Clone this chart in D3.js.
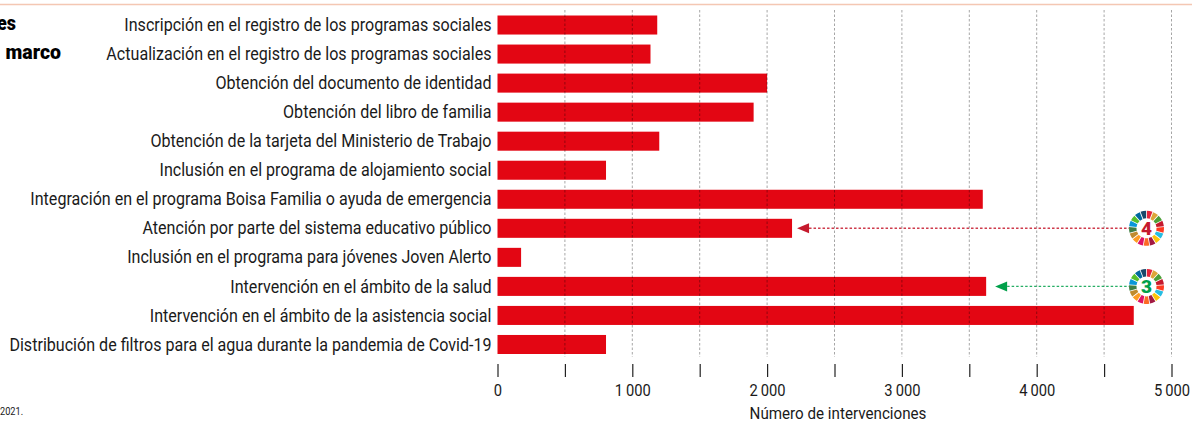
<!DOCTYPE html>
<html>
<head>
<meta charset="utf-8">
<script src="https://cdn.jsdelivr.net/npm/d3@7"></script>
<style>
    html, body { margin: 0; padding: 0; background: #fff; }
    svg { display: block; }
    text { font-family: Roboto, "Liberation Sans", sans-serif; fill: #1a1a1a; }
    .axis path { display: none; }
    .axis line { stroke: #222; stroke-width: 1.2; }
</style>
</head>
<body>
<div id="chart"></div>
<script>
    var categories = [
        'Inscripción en el registro de los programas sociales',
        'Actualización en el registro de los programas sociales',
        'Obtención del documento de identidad',
        'Obtención del libro de familia',
        'Obtención de la tarjeta del Ministerio de Trabajo',
        'Inclusión en el programa de alojamiento social',
        'Integración en el programa Boisa Familia o ayuda de emergencia',
        'Atención por parte del sistema educativo público',
        'Inclusión en el programa para jóvenes Joven Alerto',
        'Intervención en el ámbito de la salud',
        'Intervención en el ámbito de la asistencia social',
        'Distribución de filtros para el agua durante la pandemia de Covid-19'
    ];
    var values = [1185, 1135, 2000, 1900, 1200, 805, 3600, 2185, 175, 3625, 4720, 805];
    var ticks = [0, 500, 1000, 1500, 2000, 2500, 3000, 3500, 4000, 4500, 5000];
    var sdgColors = ['#E5243B', '#DDA63A', '#4C9F38', '#C5192D', '#FF3A21', '#26BDE2', '#FCC30B', '#A21942', '#FD6925',
        '#DD1367', '#FD9D24', '#BF8B2E', '#3F7E44', '#0A97D9', '#56C02B', '#00689D', '#19486A'];
    var sdgGoals = [
        { category: categories[7], goal: '4', color: '#C5192D' },
        { category: categories[9], goal: '3', color: '#00A04A' }
    ];

    var width = 1192, height = 422;
    var narrow = 0.92;

    var x = d3.scaleLinear().domain([0, 5000]).range([497.5, 1171.5]);
    var y = d3.scaleBand().domain(categories).range([10.5, 359]).paddingInner(0.345).paddingOuter(0.1725);

    var svg = d3.select('#chart').append('svg')
        .attr('width', width)
        .attr('height', height);

    // the reference type is condensed, so squeeze the text sideways
    function squeeze(px, py) {
        return 'translate(' + px + ', ' + py + ') scale(' + narrow + ', 1)';
    }

    // top rule
    svg.append('line')
        .attr('x1', 0).attr('x2', width)
        .attr('y1', 4.5).attr('y2', 4.5)
        .style('stroke', '#F4C7B3')
        .style('stroke-width', 1.5);

    // what is left of the title, cut by the crop
    svg.append('text').attr('transform', squeeze(16, 30)).attr('text-anchor', 'end')
        .style('font-weight', 900).style('font-size', '19.5px').style('fill', '#000').text('es');
    svg.append('text').attr('x', 61).attr('y', 59).attr('text-anchor', 'end')
        .style('font-weight', 900).style('font-size', '19.5px').style('fill', '#000').text('marco');

    svg.append('g').selectAll('rect').data(categories)
        .enter().append('rect')
            .attr('x', x(0))
            .attr('y', function(d) { return y(d); })
            .attr('width', function(d, i) { return x(values[i]) - x(0); })
            .attr('height', y.bandwidth())
            .style('fill', '#E30613');

    svg.append('g').selectAll('text').data(categories)
        .enter().append('text')
            .attr('transform', function(d) { return squeeze(x(0) - 6, y(d) + y.bandwidth() / 2); })
            .attr('dy', '0.35em')
            .attr('text-anchor', 'end')
            .style('font-size', '17.5px')
            .text(function(d) { return d; });

    // grid sits over the bars
    svg.append('g').selectAll('line').data(ticks.slice(1))
        .enter().append('line')
            .attr('x1', function(d) { return x(d); })
            .attr('x2', function(d) { return x(d); })
            .attr('y1', 10)
            .attr('y2', 357)
            .style('stroke', '#000')
            .style('stroke-opacity', 0.35)
            .style('stroke-dasharray', '2.5 2');

    var xAxis = d3.axisBottom(x)
        .tickValues(ticks)
        .tickSize(13)
        .tickPadding(8)
        .tickFormat(function(d) {
            return d % 1000 ? '' : d3.format(',')(d).replace(',', '\u2009');
        });

    var xGuide = svg.append('g')
        .attr('class', 'axis')
        .attr('transform', 'translate(0, 364)')
        .call(xAxis);
    xGuide.selectAll('text')
        .style('font-size', '16px')
        .style('font-family', 'Roboto, sans-serif')
        .style('fill', '#1a1a1a')
        .attr('transform', 'scale(' + narrow + ', 1)');

    svg.append('text')
        .attr('transform', squeeze(838, 419))
        .attr('text-anchor', 'middle')
        .style('font-size', '16.5px')
        .text('Número de intervenciones');

    svg.append('text')
        .attr('transform', squeeze(0, 415))
        .style('font-size', '10px')
        .text('2021.');

    // goal wheels and arrows
    var pie = d3.pie().value(1).sort(null);
    var arc = d3.arc().innerRadius(10).outerRadius(17.5).padAngle(0.04);

    sdgGoals.forEach(function(g) {
        var i = categories.indexOf(g.category);
        var cy = y(g.category) + y.bandwidth() / 2;
        var tip = x(values[i]) + (g.goal === '3' ? 9 : 5);

        svg.append('line')
            .attr('x1', tip + 12).attr('x2', 1129)
            .attr('y1', cy).attr('y2', cy)
            .style('stroke', g.color)
            .style('stroke-opacity', 0.85)
            .style('stroke-width', 1.4)
            .style('stroke-dasharray', '2.5 2');

        svg.append('path')
            .attr('d', d3.line()([[tip, cy], [tip + 12, cy - 5], [tip + 12, cy + 5]]))
            .style('fill', g.color);

        var wheel = svg.append('g').attr('transform', 'translate(1146.5, ' + cy + ')');
        wheel.selectAll('path').data(pie(sdgColors))
            .enter().append('path')
                .attr('d', arc)
                .style('fill', function(d) { return d.data; });
        wheel.append('text')
            .attr('text-anchor', 'middle')
            .attr('dy', '0.36em')
            .style('font-weight', 900)
            .style('font-size', '19px')
            .style('fill', g.color)
            .text(g.goal);
    });
</script>
</body>
</html>
